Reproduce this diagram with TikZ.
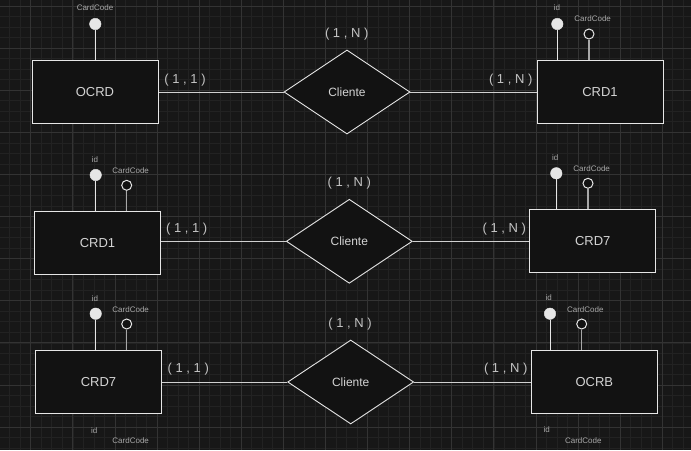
\documentclass[tikz,border=0pt]{standalone}
\usepackage{fontspec}
\setmainfont{Liberation Sans}
\usetikzlibrary{shapes.geometric}
\definecolor{bg}{HTML}{171717}
\definecolor{minorg}{HTML}{222222}
\definecolor{majorg}{HTML}{333333}
\definecolor{boxfill}{HTML}{121212}
\definecolor{edge}{HTML}{E6E6E6}
\definecolor{conn}{HTML}{D0D0D0}
\definecolor{maintext}{HTML}{D4D4D4}
\definecolor{cardtext}{HTML}{C4C4C4}
\definecolor{smalltext}{HTML}{A8A8A8}
\tikzset{
  entity/.style={draw=edge, fill=boxfill, line width=1pt, minimum width=126pt, minimum height=63pt, inner sep=0pt, text=maintext, font=\fontsize{13}{15}\selectfont},
  rel/.style={diamond, draw=edge, fill=boxfill, line width=0.9pt, minimum width=126pt, minimum height=84pt, inner sep=0pt, text=maintext, font=\fontsize{12}{14}\selectfont},
  keyattr/.style={circle, draw=edge, fill=edge, minimum size=11.5pt, inner sep=0pt},
  plainattr/.style={circle, draw=edge, fill=boxfill, line width=1pt, minimum size=10pt, inner sep=0pt},
  card/.style={text=cardtext, font=\fontsize{13}{15}\selectfont, inner sep=0pt},
  small/.style={text=smalltext, font=\fontsize{8}{9}\selectfont, inner sep=0pt},
  connline/.style={draw=conn, line width=1pt},
  keyline/.style={draw=edge, line width=1pt},
  attrline/.style={draw=smalltext, line width=1.2pt},
  minorgrid/.style={draw=minorg, line width=0.6pt},
  majorgrid/.style={draw=majorg, line width=0.8pt}
}
\begin{document}
\begin{tikzpicture}[x=1pt,y=-1pt]
\useasboundingbox (0,0) rectangle (691,450);
\fill[bg] (0,0) rectangle (691,450);
% grid
\foreach \i in {-3,...,63} {\draw[minorgrid] ({30.7+10.525*\i},0) -- ({30.7+10.525*\i},450);}
\foreach \i in {-1,...,43} {\draw[minorgrid] (0,{6+10.525*\i}) -- (691,{6+10.525*\i});}
\foreach \i in {-1,...,16} {\draw[majorgrid] ({30.7+42.1*\i},0) -- ({30.7+42.1*\i},450);}
\foreach \i in {0,...,11} {\draw[majorgrid] (0,{6+42.1*\i}) -- (691,{6+42.1*\i});}

% ---------- Row 1 ----------
\node[entity] (ocrd) at (95,92) {OCRD};
\node[rel] (r1) at (347,92) {Cliente};
\node[entity] (crd1a) at (600,92) {CRD1};
\draw[connline] (r1.west) -- (r1.west -| ocrd.east);
\draw[connline] (r1.east) -- (r1.east -| crd1a.west);
\node[card] (c1a) at (185,80) {( 1 , 1 )};
\node[card] (c1b) at (346.7,34) {( 1 , N )};
\node[card] (c1c) at (510.7,80) {( 1 , N )};
\node[keyattr] (k1) at (95.3,24) {};
\draw[keyline] (k1) -- (k1 |- ocrd.north);
\node[small] (l1) at (95,8) {CardCode};
\node[keyattr] (k2) at (557.3,24) {};
\draw[keyline] (k2) -- (k2 |- crd1a.north);
\node[small] (l2) at (557,8) {id};
\node[plainattr] (p2) at (589,34) {};
\draw[attrline] (p2) -- (p2 |- crd1a.north);
\node[small] (l3) at (592.7,19) {CardCode};

% ---------- Row 2 ----------
\node[entity] (crd1b) at (97.5,243.3) {CRD1};
\node[rel] (r2) at (349.3,241.3) {Cliente};
\node[entity] (crd7a) at (592.7,241.2) {CRD7};
\draw[connline] (r2.west) -- (r2.west -| crd1b.east);
\draw[connline] (r2.east) -- (r2.east -| crd7a.west);
\node[card] (c2a) at (186.7,229) {( 1 , 1 )};
\node[card] (c2b) at (349.3,182.7) {( 1 , N )};
\node[card] (c2c) at (504.3,229) {( 1 , N )};
\node[keyattr] (k3) at (95.7,175) {};
\draw[keyline] (k3) -- (k3 |- crd1b.north);
\node[small] (l4) at (95,160) {id};
\node[plainattr] (p3) at (126.7,185.3) {};
\draw[attrline] (p3) -- (p3 |- crd1b.north);
\node[small] (l5) at (130.7,170.3) {CardCode};
\node[keyattr] (k4) at (556.3,173.3) {};
\draw[keyline] (k4) -- (k4 |- crd7a.north);
\node[small] (l6) at (555.3,157.3) {id};
\node[plainattr] (p4) at (588,183.3) {};
\draw[attrline] (p4) -- (p4 |- crd7a.north);
\node[small] (l7) at (591.7,168.3) {CardCode};

% ---------- Row 3 ----------
\node[entity] (crd7b) at (98.5,381.8) {CRD7};
\node[rel] (r3) at (350.7,382) {Cliente};
\node[entity] (ocrb) at (594.3,381.8) {OCRB};
\draw[connline] (r3.west) -- (r3.west -| crd7b.east);
\draw[connline] (r3.east) -- (r3.east -| ocrb.west);
\node[card] (c3a) at (188.3,369.3) {( 1 , 1 )};
\node[card] (c3b) at (350,324) {( 1 , N )};
\node[card] (c3c) at (505.7,369.3) {( 1 , N )};
\node[keyattr] (k5) at (95.7,313.7) {};
\draw[keyline] (k5) -- (k5 |- crd7b.north);
\node[small] (l8) at (95,298.3) {id};
\node[plainattr] (p5) at (126.7,324) {};
\draw[attrline] (p5) -- (p5 |- crd7b.north);
\node[small] (l9) at (130.7,309.3) {CardCode};
\node[keyattr] (k6) at (550,313.7) {};
\draw[keyline] (k6) -- (k6 |- ocrb.north);
\node[small] (l10) at (548.7,298) {id};
\node[plainattr] (p6) at (581.7,324) {};
\draw[attrline] (p6) -- (p6 |- ocrb.north);
\node[small] (l11) at (585.3,309.3) {CardCode};
\node[small] (l12) at (94.3,430.3) {id};
\node[small] (l13) at (130.7,440.3) {CardCode};
\node[small] (l14) at (546.7,430) {id};
\node[small] (l15) at (583.3,440.3) {CardCode};
\end{tikzpicture}
\end{document}
